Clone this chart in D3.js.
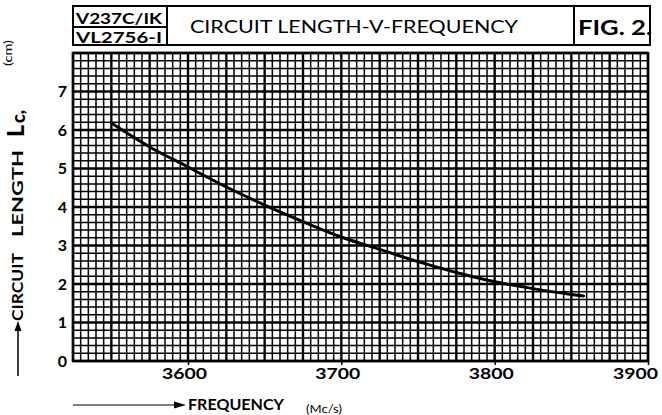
<!DOCTYPE html>
<html>
<head>
<meta charset="utf-8">
<script src="https://cdn.jsdelivr.net/npm/d3@7"></script>
<style>
  body { margin: 0; background: #fff; }
  svg { display: block; }
</style>
</head>
<body>
<div id="container"></div>
<script>
// values
const freqTicks = [3600, 3700, 3800, 3900];
const lenTicks  = [0, 1, 2, 3, 4, 5, 6, 7];
const curveFreq = [3550, 3575, 3600, 3625, 3650, 3675, 3700, 3725, 3750, 3775, 3800, 3825, 3850, 3858];
const curveLen  = [6.18, 5.56, 5.04, 4.52, 4.05, 3.62, 3.22, 2.90, 2.58, 2.30, 2.06, 1.88, 1.73, 1.69];
const codeLines = ["V237C/IK", "VL2756-I"];
const titleText = "CIRCUIT LENGTH-V-FREQUENCY";
const figText   = "FIG. 2.";

const width = 662, height = 415;
const margin = { top: 53, right: 14, bottom: 54, left: 73 };
const font = "Lato, 'Open Sans', sans-serif";

const svg = d3.select("#container").append("svg")
    .attr("width", width)
    .attr("height", height)
    .style("font-family", font);

const x = d3.scaleLinear()
    .domain([3525, 3900])
    .range([margin.left, width - margin.right]);

const y = d3.scaleLinear()
    .domain([0, 8])
    .range([height - margin.bottom, margin.top]);

// graph paper: minor every 5 Mc/s and 0.2 cm, heavy every 5 cells
const grid = svg.append("g");
const xs = d3.range(x.domain()[0], x.domain()[1] + 0.01, 5);
const ys = d3.range(0, 8.001, 0.2);

grid.selectAll("line.v")
  .data(xs)
  .join("line")
    .attr("x1", d => x(d)).attr("x2", d => x(d))
    .attr("y1", y(0)).attr("y2", y(8))
    .attr("stroke", "#000")
    .attr("stroke-width", (d, i) => i % 5 === 0 ? 2.4 : 1.5);

grid.selectAll("line.h")
  .data(ys)
  .join("line")
    .attr("y1", d => y(d)).attr("y2", d => y(d))
    .attr("x1", x.range()[0]).attr("x2", x.range()[1])
    .attr("stroke", "#000")
    .attr("stroke-width", (d, i) => i % 5 === 0 ? 2.4 : 1.5);

grid.append("rect")
    .attr("x", x.range()[0]).attr("y", y(8))
    .attr("width", x.range()[1] - x.range()[0])
    .attr("height", y(0) - y(8))
    .attr("fill", "none")
    .attr("stroke", "#000")
    .attr("stroke-width", 2.4);

// axes
const xAxis = svg.append("g")
    .attr("transform", `translate(0,${y(0)})`)
    .call(d3.axisBottom(x).tickValues(freqTicks).tickSize(4).tickPadding(3).tickFormat(d3.format("d")));
xAxis.select(".domain").remove();
xAxis.selectAll("line").attr("stroke-width", 1.5);
xAxis.selectAll("text")
    .attr("font-family", font)
    .attr("font-size", 16)
    .attr("font-weight", 700)
    .attr("fill", "#000")
    .attr("textLength", 45)
    .attr("lengthAdjust", "spacingAndGlyphs")
    .attr("x", (d, i) => i === freqTicks.length - 1 ? -13 : -4);

const yAxis = svg.append("g")
    .attr("transform", `translate(${x.range()[0]},0)`)
    .call(d3.axisLeft(y).tickValues(lenTicks).tickSize(0).tickPadding(6));
yAxis.select(".domain").remove();
yAxis.selectAll("text")
    .attr("font-family", font)
    .attr("font-size", 16)
    .attr("font-weight", 700)
    .attr("fill", "#000");

// curve
const pts = curveFreq.map((f, i) => [f, curveLen[i]]);
svg.append("path")
    .datum(pts)
    .attr("fill", "none")
    .attr("stroke", "#000")
    .attr("stroke-width", 3)
    .attr("stroke-linecap", "round")
    .attr("d", d3.line().x(d => x(d[0])).y(d => y(d[1])).curve(d3.curveMonotoneX));

// header boxes
const hdr = svg.append("g").attr("fill", "none").attr("stroke", "#000").attr("stroke-width", 2);
hdr.append("rect").attr("x", 73).attr("y", 6).attr("width", 94).attr("height", 39);
hdr.append("line").attr("x1", 73).attr("x2", 167).attr("y1", 27).attr("y2", 27);
hdr.append("rect").attr("x", 167).attr("y", 6).attr("width", 407).attr("height", 39);
hdr.append("rect").attr("x", 574).attr("y", 6).attr("width", 76).attr("height", 39);

svg.selectAll("text.code")
  .data(codeLines)
  .join("text")
    .attr("x", 76)
    .attr("y", (d, i) => 24 + i * 19)
    .attr("font-size", 15)
    .attr("font-weight", 700)
    .attr("textLength", 86)
    .attr("lengthAdjust", "spacingAndGlyphs")
    .text(d => d);

svg.append("text")
    .attr("x", 190).attr("y", 33)
    .attr("font-size", 17)
    .attr("textLength", 328)
    .attr("lengthAdjust", "spacingAndGlyphs")
    .text(titleText);

svg.append("text")
    .attr("x", 578).attr("y", 35)
    .attr("font-size", 21)
    .attr("font-weight", 700)
    .attr("textLength", 74)
    .attr("lengthAdjust", "spacingAndGlyphs")
    .text(figText);

// y label (rotated) with arrow
const yl = svg.append("g").attr("transform", "translate(23,0) rotate(-90)");
yl.append("line")
    .attr("x1", -376).attr("x2", -330)
    .attr("y1", -5).attr("y2", -5)
    .attr("stroke", "#000").attr("stroke-width", 1.5);
yl.append("path")
    .attr("d", "M-321,-5 L-331,-8.5 L-331,-1.5 Z")
    .attr("fill", "#000");
const ylabParts = [
  { t: "CIRCUIT", x: -321, len: 68, size: 15 },
  { t: "LENGTH",  x: -237, len: 87, size: 15 }
];
yl.selectAll("text.lab")
  .data(ylabParts)
  .join("text")
    .attr("x", d => d.x).attr("y", 0)
    .attr("font-size", d => d.size)
    .attr("font-weight", 700)
    .attr("textLength", d => d.len)
    .attr("lengthAdjust", "spacingAndGlyphs")
    .text(d => d.t);
const lc = yl.append("text")
    .attr("x", -137).attr("y", 1)
    .attr("font-weight", 900);
lc.append("tspan").attr("font-size", 23).text("L");
lc.append("tspan").attr("font-size", 18).attr("dx", 2).attr("dy", 1).text("c");
lc.append("tspan").attr("font-size", 18).attr("dy", -1).text(",");
yl.append("text")
    .attr("x", -66).attr("y", -11)
    .attr("font-size", 12)
    .attr("textLength", 26)
    .attr("lengthAdjust", "spacingAndGlyphs")
    .text("(cm)");

// x label with arrow
svg.append("line")
    .attr("x1", 73).attr("x2", 176)
    .attr("y1", 405).attr("y2", 405)
    .attr("stroke", "#000").attr("stroke-width", 1.2);
svg.append("path")
    .attr("d", "M186,405 L174,401.5 L174,408.5 Z")
    .attr("fill", "#000");
svg.append("text")
    .attr("x", 188).attr("y", 410)
    .attr("font-size", 15)
    .attr("font-weight", 700)
    .attr("textLength", 96)
    .attr("lengthAdjust", "spacingAndGlyphs")
    .text("FREQUENCY");
svg.append("text")
    .attr("x", 306).attr("y", 413)
    .attr("font-size", 12)
    .attr("textLength", 36)
    .attr("lengthAdjust", "spacingAndGlyphs")
    .text("(Mc/s)");
</script>
</body>
</html>
